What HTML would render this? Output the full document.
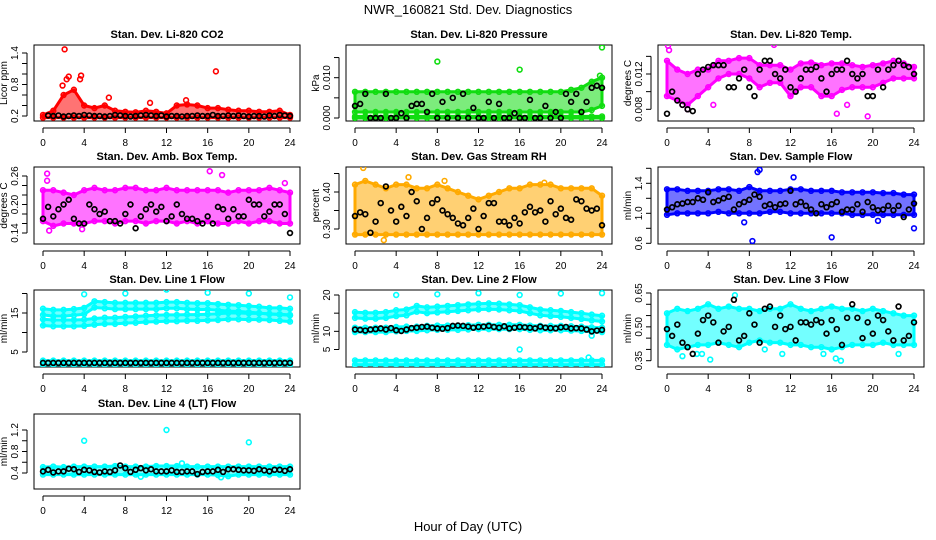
<!DOCTYPE html>
<html><head><meta charset="utf-8"><style>
html,body{margin:0;padding:0;background:#fff;}
svg{display:block;font-family:"Liberation Sans",sans-serif;}
</style></head><body>
<svg id="chart" width="936" height="540" xmlns="http://www.w3.org/2000/svg">
<text x="468" y="14" font-size="13" text-anchor="middle">NWR_160821  Std. Dev. Diagnostics</text>
<text x="468" y="531" font-size="13" text-anchor="middle">Hour of Day (UTC)</text>
</svg>
<script>
// ---- data ----
const hoursBand = [0,1,2,3,4,5,6,7,8,9,10,11,12,13,14,15,16,17,18,19,20,21,22,23,24];
const hoursBlack = [0,0.5,1,1.5,2,2.5,3,3.5,4,4.5,5,5.5,6,6.5,7,7.5,8,8.5,9,9.5,10,10.5,11,11.5,12,12.5,13,13.5,14,14.5,15,15.5,16,16.5,17,17.5,18,18.5,19,19.5,20,20.5,21,21.5,22,22.5,23,23.5,24];
const xTicks = [0,4,8,12,16,20,24];

const co2Hi = [0.22,0.3,0.6,0.7,0.4,0.35,0.4,0.3,0.28,0.27,0.3,0.28,0.25,0.4,0.42,0.4,0.35,0.35,0.32,0.3,0.3,0.28,0.28,0.3,0.22];
const co2Lo = [0.17,0.17,0.17,0.17,0.17,0.17,0.17,0.17,0.17,0.17,0.17,0.17,0.17,0.17,0.17,0.17,0.17,0.17,0.17,0.17,0.17,0.17,0.17,0.17,0.17];
const co2OutH = [2.1,1.9,2.5,3.7,3.6,2.3,6.4,16.8,10.4,13.9];
const co2OutV = [1.47,0.78,0.95,0.97,0.9,0.9,0.55,1.05,0.45,0.5];
const co2Black = [0.2,0.21,0.2,0.21,0.19,0.2,0.21,0.2,0.22,0.21,0.2,0.2,0.19,0.2,0.22,0.21,0.2,0.19,0.2,0.21,0.22,0.21,0.2,0.21,0.19,0.2,0.2,0.19,0.2,0.2,0.21,0.2,0.2,0.22,0.2,0.2,0.21,0.2,0.21,0.2,0.19,0.2,0.2,0.19,0.21,0.2,0.22,0.21,0.2];

const presHi = [0.0065,0.0065,0.0065,0.0065,0.0065,0.0065,0.0065,0.0065,0.0065,0.0065,0.0065,0.0065,0.0065,0.0065,0.0065,0.0065,0.0065,0.0065,0.0065,0.0065,0.0065,0.007,0.0075,0.009,0.01];
const presLo = [0.0015,0.0015,0.0015,0.0015,0.0015,0.0015,0.0015,0.0015,0.0015,0.0015,0.0015,0.0015,0.0015,0.0015,0.0015,0.0015,0.0015,0.0015,0.0015,0.0015,0.0015,0.0015,0.0015,0.002,0.003];
const presZeroHi = [0.0004,0.0004,0.0004,0.0004,0.0004,0.0004,0.0004,0.0004,0.0004,0.0004,0.0004,0.0004,0.0004,0.0004,0.0004,0.0004,0.0004,0.0004,0.0004,0.0004,0.0004,0.0004,0.0004,0.0004,0.0004];
const presZeroLo = [0,0,0,0,0,0,0,0,0,0,0,0,0,0,0,0,0,0,0,0,0,0,0,0,0];
const presOutH = [8,16,24,23.8];
const presOutV = [0.014,0.012,0.0175,0.0105];
const presBlack = [0.003,0.0035,0.006,0,0,0,0.006,0,0,0.0012,0,0.003,0.0035,0.0035,0.0015,0.006,0,0.004,0,0.005,0,0.006,0,0.0025,0,0,0.004,0,0.0035,0,0,0.0012,0,0,0.0045,0,0,0.003,0,0.0015,0,0.006,0.004,0.006,0.0015,0.004,0.0075,0.008,0.0075];

const tempHi = [0.0135,0.0125,0.012,0.0125,0.0125,0.0135,0.0135,0.0138,0.0138,0.013,0.013,0.013,0.0125,0.0132,0.0133,0.013,0.0132,0.0132,0.013,0.0128,0.013,0.0132,0.0135,0.0132,0.0128];
const tempLo = [0.0095,0.009,0.0085,0.0095,0.0105,0.0115,0.012,0.012,0.0115,0.0105,0.011,0.011,0.0095,0.0105,0.0105,0.0095,0.0095,0.0102,0.0105,0.0105,0.0105,0.011,0.0115,0.0115,0.0115];
const tempOutH = [0.1,0.2,1.5,2,16.5,19.5,17.5,10.4,4.5];
const tempOutV = [0.0152,0.0147,0.0085,0.008,0.0075,0.0072,0.0085,0.0153,0.0085];
const tempBlack = [0.0075,0.01,0.009,0.0085,0.008,0.0078,0.012,0.0125,0.0128,0.013,0.013,0.013,0.0105,0.0105,0.0115,0.0125,0.0105,0.0095,0.0125,0.0135,0.0135,0.012,0.0115,0.0125,0.0105,0.01,0.0115,0.0125,0.0125,0.0128,0.0115,0.01,0.012,0.0125,0.0125,0.0135,0.012,0.0115,0.012,0.0095,0.0095,0.0125,0.0105,0.0125,0.013,0.0135,0.013,0.0128,0.012];

const ambHi = [0.23,0.23,0.225,0.22,0.23,0.235,0.23,0.23,0.235,0.235,0.23,0.23,0.235,0.23,0.23,0.23,0.23,0.23,0.225,0.23,0.23,0.23,0.235,0.23,0.225];
const ambLo = [0.165,0.155,0.16,0.16,0.16,0.165,0.165,0.16,0.165,0.165,0.16,0.165,0.165,0.16,0.165,0.16,0.165,0.16,0.16,0.165,0.16,0.165,0.165,0.16,0.16];
const ambOutH = [0.4,0.4,0.6,16.2,17.4,23.5,3.8];
const ambOutV = [0.265,0.25,0.145,0.27,0.262,0.245,0.148];
const ambBlack = [0.17,0.195,0.175,0.19,0.2,0.21,0.17,0.16,0.16,0.2,0.19,0.18,0.185,0.165,0.165,0.16,0.18,0.2,0.15,0.175,0.19,0.2,0.185,0.195,0.165,0.175,0.2,0.18,0.17,0.17,0.165,0.16,0.175,0.16,0.195,0.19,0.17,0.19,0.175,0.175,0.21,0.2,0.2,0.175,0.185,0.2,0.2,0.18,0.14];

const rhHi = [0.42,0.43,0.42,0.41,0.42,0.42,0.41,0.41,0.42,0.41,0.4,0.39,0.38,0.39,0.4,0.41,0.41,0.42,0.42,0.42,0.41,0.41,0.41,0.41,0.39];
const rhLo = [0.285,0.285,0.285,0.285,0.285,0.285,0.285,0.285,0.285,0.285,0.285,0.285,0.285,0.285,0.285,0.285,0.285,0.285,0.285,0.285,0.285,0.285,0.285,0.285,0.285];
const rhOutH = [0.8,5.2,2.8,18.4,8.7];
const rhOutV = [0.465,0.44,0.27,0.425,0.43];
const rhBlack = [0.335,0.345,0.34,0.29,0.32,0.37,0.415,0.35,0.32,0.36,0.335,0.4,0.375,0.3,0.33,0.37,0.38,0.35,0.34,0.33,0.315,0.31,0.33,0.355,0.3,0.335,0.37,0.37,0.32,0.32,0.31,0.33,0.315,0.345,0.36,0.345,0.35,0.32,0.375,0.34,0.355,0.33,0.325,0.38,0.375,0.355,0.35,0.355,0.31];

const flowHi = [1.32,1.32,1.3,1.3,1.3,1.32,1.32,1.3,1.35,1.3,1.3,1.3,1.32,1.32,1.3,1.3,1.3,1.28,1.28,1.28,1.28,1.27,1.27,1.25,1.25];
const flowLo = [0.98,1.0,1.0,1.0,1.0,1.02,1.0,1.0,1.0,1.0,1.02,1.02,1.0,1.0,1.0,1.0,1.0,1.0,0.98,0.98,0.98,0.98,0.98,0.98,0.98];
const flowOutH = [8.3,8.8,9,7.5,16,12.3,20.5,24];
const flowOutV = [0.63,1.55,1.58,0.88,0.68,1.48,0.9,0.8];
const flowBlack = [1.05,1.08,1.12,1.13,1.15,1.15,1.2,1.18,1.28,1.15,1.17,1.2,1.22,1.05,1.12,1.15,1.18,1.25,1.22,1.1,1.12,1.08,1.12,1.13,1.3,1.12,1.15,1.1,1.05,1.0,1.12,1.08,1.12,1.15,1.02,1.05,1.05,1.12,1.02,1.15,1.08,1.04,1.05,1.1,1.04,1.1,0.95,1.05,1.13];

const l1UpHi = [16.1,15.8,15.8,16,16.3,18,17.8,17.6,17.6,17.6,17.6,17.6,17.8,17.8,17.6,17.5,17.5,17.3,17.1,17,16.8,16.6,16.3,16.3,16.1];
const l1UpLo = [14.5,14.2,14.2,14.4,14.7,16.4,16.2,16,16,16,16,16,16.2,16.2,16,15.9,15.9,15.7,15.5,15.4,15.2,15,14.7,14.7,14.5];
const l1LoHi = [13.4,13.2,13.2,13.2,13.3,13.6,13.8,13.8,14,14.1,14.3,14.4,14.5,14.5,14.6,14.6,14.7,14.8,15,15,14.9,14.9,14.8,14.6,14.4];
const l1LoLo = [11.8,11.6,11.6,11.6,11.7,12,12.2,12.2,12.4,12.5,12.7,12.8,12.9,12.9,13,13,13.1,13.2,13.4,13.4,13.3,13.3,13.2,13,12.8];
const l1BotHi = [2.8,2.8,2.8,2.8,2.8,2.8,2.8,2.8,2.8,2.8,2.8,2.8,2.8,2.8,2.8,2.8,2.8,2.8,2.8,2.8,2.8,2.8,2.8,2.8,2.8];
const l1BotLo = [1.7,1.7,1.7,1.7,1.7,1.7,1.7,1.7,1.7,1.7,1.7,1.7,1.7,1.7,1.7,1.7,1.7,1.7,1.7,1.7,1.7,1.7,1.7,1.7,1.7];
const l1OutH = [4,8,12,16,20,24];
const l1OutV = [19.8,20,21,20.2,20,19];
const l1Black = [2.2,2.2,2.2,2.2,2.2,2.2,2.2,2.2,2.2,2.2,2.2,2.2,2.2,2.2,2.2,2.2,2.2,2.2,2.2,2.2,2.2,2.2,2.2,2.2,2.2,2.2,2.2,2.2,2.2,2.2,2.2,2.2,2.2,2.2,2.2,2.2,2.2,2.2,2.2,2.2,2.2,2.2,2.2,2.2,2.2,2.2,2.2,2.2,2.2];

const l2UpHi = [15.3,15.1,15.1,15.3,15.8,16,17,16.6,16.8,17,17.2,17.4,17.6,17.7,17.6,17.4,17.2,16.6,16,15.8,15.6,15.3,15,14.6,14.3];
const l2UpLo = [13.7,13.5,13.5,13.7,14.2,14.4,15.4,15,15.2,15.4,15.6,15.8,16,16.1,16,15.8,15.6,15,14.4,14.2,14,13.7,13.4,13,12.7];
const l2MidHi = [11,11,11,11,11.2,11.3,11.3,11.5,11.6,11.6,11.6,11.7,11.8,11.8,11.8,11.8,11.8,11.6,11.5,11.5,11.5,11.4,11.3,11.1,11];
const l2MidLo = [9.8,9.8,9.8,9.8,10,10.1,10.1,10.3,10.4,10.4,10.4,10.5,10.6,10.6,10.6,10.6,10.6,10.4,10.3,10.3,10.3,10.2,10.1,9.9,9.8];
const l2BotHi = [2,2,2,2,2,2,2,2,2,2,2,2,2,2,2,2,2,2,2,2,2,2,2,2,2];
const l2BotLo = [0.8,0.8,0.8,0.8,0.8,0.8,0.8,0.8,0.8,0.8,0.8,0.8,0.8,0.8,0.8,0.8,0.8,0.8,0.8,0.8,0.8,0.8,0.8,0.8,0.8];
const l2OutH = [4,8,12,16,20,24,16,23,22.7];
const l2OutV = [20,20.2,20.5,20,20.4,20.5,5,8.8,2.8];
const l2Black = [10.5,10.4,10.2,10.5,10.6,10.8,10.5,10.9,10.3,10.1,10.5,10.9,11,11.2,11.3,11,10.8,10.7,10.9,11.5,11.6,11.5,11.3,11,11.2,11.3,11.5,11.2,11,11.4,10.8,11,11.2,11.1,11,10.8,11.3,11,10.9,10.8,11.1,11.2,10.8,10.9,10.8,10.5,10,10.2,10.4];

const l3Hi = [0.56,0.58,0.57,0.58,0.6,0.58,0.59,0.58,0.58,0.57,0.58,0.58,0.6,0.58,0.57,0.58,0.59,0.58,0.58,0.57,0.58,0.57,0.56,0.55,0.55];
const l3Lo = [0.42,0.4,0.41,0.42,0.42,0.43,0.42,0.41,0.43,0.44,0.43,0.43,0.42,0.42,0.41,0.41,0.4,0.41,0.42,0.42,0.42,0.43,0.42,0.42,0.42];
const l3OutH = [1.5,2.9,3.4,4.2,6.6,11.2,9.5,15.2,16.4,16.9,22.5];
const l3OutV = [0.37,0.38,0.38,0.355,0.64,0.38,0.4,0.38,0.36,0.35,0.38];
const l3Black = [0.49,0.46,0.51,0.43,0.41,0.38,0.47,0.53,0.55,0.52,0.43,0.48,0.5,0.62,0.44,0.46,0.56,0.51,0.43,0.58,0.59,0.5,0.55,0.49,0.5,0.44,0.52,0.52,0.51,0.53,0.52,0.47,0.53,0.49,0.42,0.54,0.6,0.54,0.45,0.52,0.47,0.55,0.53,0.48,0.44,0.59,0.44,0.46,0.52];

const l4Hi = [0.51,0.52,0.51,0.52,0.52,0.52,0.52,0.53,0.52,0.52,0.52,0.53,0.53,0.53,0.52,0.52,0.52,0.52,0.52,0.52,0.52,0.52,0.52,0.52,0.52];
const l4Lo = [0.37,0.37,0.37,0.37,0.37,0.37,0.37,0.37,0.37,0.37,0.37,0.37,0.37,0.37,0.37,0.37,0.37,0.36,0.34,0.37,0.37,0.37,0.37,0.37,0.37];
const l4OutH = [4,12,20,13.5,9.5,17.3];
const l4OutV = [1.0,1.2,0.97,0.58,0.33,0.32];
const l4Black = [0.43,0.46,0.41,0.43,0.43,0.48,0.47,0.42,0.46,0.45,0.42,0.41,0.43,0.42,0.45,0.54,0.49,0.42,0.46,0.49,0.45,0.47,0.43,0.43,0.43,0.45,0.42,0.42,0.43,0.43,0.38,0.42,0.43,0.43,0.46,0.42,0.47,0.47,0.46,0.45,0.45,0.44,0.47,0.45,0.43,0.46,0.46,0.44,0.47];

// ---- rendering ----
const NS = "http://www.w3.org/2000/svg";
const svg = document.getElementById('chart');
const rowTop = [45,167,290,414], rowBot = [121,244,367,489];
function mk(tag, attrs, parent){ const e=document.createElementNS(NS,tag); for(const k in attrs) e.setAttribute(k,attrs[k]); (parent||svg).appendChild(e); return e; }

function panel(cfg){
  const off = cfg.col*312, top=rowTop[cfg.row], bot=rowBot[cfg.row];
  const L=34+off, R=300+off;
  const xs = h => 43+off + h*(247/24);
  const ys = v => cfg.p1 + (v-cfg.v1)*(cfg.p2-cfg.p1)/(cfg.v2-cfg.v1);
  const g = mk('g',{});
  
  
  const cp = 'clip'+cfg.name;
  const cl = mk('clipPath',{id:cp},g); mk('rect',{x:L,y:top,width:R-L,height:bot-top},cl);
  const t = mk('text',{x:(L+R)/2,y:top-7,'font-size':11,'font-weight':'bold','text-anchor':'middle'},g);
  t.textContent = cfg.title;
  
  
  const box = mk('rect',{x:L,y:top,width:R-L,height:bot-top,fill:'none',stroke:'#000','stroke-width':1},g);
  
  
  mk('line',{x1:xs(0),x2:xs(24),y1:bot+7,y2:bot+7,stroke:'#000'},g);
  xTicks.forEach(h=>{
    mk('line',{x1:xs(h),x2:xs(h),y1:bot+7,y2:bot+12,stroke:'#000'},g);
    const tl = mk('text',{x:xs(h),y:bot+25,'font-size':10,'text-anchor':'middle'},g);
    tl.textContent = h;
    
    
  });
  const yt = cfg.ticks;
  mk('line',{x1:L-7,x2:L-7,y1:ys(yt[0]),y2:ys(yt[yt.length-1]),stroke:'#000'},g);
  yt.forEach(v=>mk('line',{x1:L-12,x2:L-7,y1:ys(v),y2:ys(v),stroke:'#000'},g));
  cfg.labels.forEach(v=>{
    const y=ys(v), x=L-16;
    const tl = mk('text',{x:x,y:y,'font-size':10,'text-anchor':'middle',transform:`rotate(-90 ${x} ${y})`},g);
    tl.textContent = cfg.fmt(v);
    
    
  });
  const ax = mk('text',{x:L-27,y:(top+bot)/2,'font-size':10,'text-anchor':'middle',transform:`rotate(-90 ${L-27} ${(top+bot)/2})`},g);
  ax.textContent = cfg.ylab;
  
  
  const pg = mk('g',{'clip-path':`url(#${cp})`},g);
  cfg.bands.forEach(b=>{
    const hi=b[0], lo=b[1];
    let d='';
    hoursBand.forEach((h,i)=>{ d+=(i?'L':'M')+xs(h).toFixed(1)+','+ys(hi[i]).toFixed(1); });
    for(let i=hoursBand.length-1;i>=0;i--) d+='L'+xs(hoursBand[i]).toFixed(1)+','+ys(lo[i]).toFixed(1);
    const p = mk('path',{d:d+'Z',fill:cfg.color,'fill-opacity':0.55,stroke:cfg.color,'stroke-width':3,'stroke-linejoin':'round'},pg);
    
    
    hoursBand.forEach((h,i)=>{
      [hi[i],lo[i]].forEach(v=>{
        const c = mk('circle',{cx:xs(h),cy:ys(v),r:2.4,fill:'none',stroke:cfg.color,'stroke-width':1.6},pg);
        
        
      });
    });
  });
  cfg.outH.forEach((h,i)=>{
    const c = mk('circle',{cx:xs(h),cy:ys(cfg.outV[i]),r:2.4,fill:'none',stroke:cfg.color,'stroke-width':1.6},pg);
    
    
  });
  hoursBlack.forEach((h,i)=>{
    if(cfg.skipFirst && i===0) return;
    const c = mk('circle',{cx:xs(h),cy:ys(cfg.black[i]),r:2.4,fill:'none',stroke:'#000','stroke-width':1.7},pg);
    
    
  });
}
const f1=v=>v.toFixed(1), f3=v=>v.toFixed(3), f2=v=>v.toFixed(2), f0=v=>String(v);
panel({name:'panel-co2',title:'Stan. Dev. Li-820 CO2',ylab:'Licor ppm',col:0,row:0,v1:0.2,p1:116,v2:1.4,p2:53,ticks:[0.2,0.4,0.6,0.8,1.0,1.2,1.4],labels:[0.2,0.8,1.4],fmt:f1,color:'#ff0000',bands:[[co2Hi,co2Lo]],outH:co2OutH,outV:co2OutV,black:co2Black,skipFirst:true});
panel({name:'panel-pressure',title:'Stan. Dev. Li-820 Pressure',ylab:'kPa',col:1,row:0,v1:0,p1:118,v2:0.01,p2:77.7,ticks:[0,0.005,0.01,0.015],labels:[0,0.01],fmt:f3,color:'#11dd11',bands:[[presHi,presLo],[presZeroHi,presZeroLo]],outH:presOutH,outV:presOutV,black:presBlack});
panel({name:'panel-temp',title:'Stan. Dev. Li-820 Temp.',ylab:'degrees C',col:2,row:0,v1:0.008,p1:109.3,v2:0.012,p2:74,ticks:[0.008,0.01,0.012,0.014],labels:[0.008,0.012],fmt:f3,color:'#ff00ff',bands:[[tempHi,tempLo]],outH:tempOutH,outV:tempOutV,black:tempBlack});
panel({name:'panel-amb-temp',title:'Stan. Dev. Amb. Box Temp.',ylab:'degrees C',col:0,row:1,v1:0.14,p1:233,v2:0.26,p2:176,ticks:[0.14,0.16,0.18,0.2,0.22,0.24,0.26],labels:[0.14,0.2,0.26],fmt:f2,color:'#ff00ff',bands:[[ambHi,ambLo]],outH:ambOutH,outV:ambOutV,black:ambBlack});
panel({name:'panel-rh',title:'Stan. Dev. Gas Stream RH',ylab:'percent',col:1,row:1,v1:0.3,p1:229,v2:0.4,p2:192,ticks:[0.3,0.35,0.4,0.45],labels:[0.3,0.4],fmt:f2,color:'#ffaa00',bands:[[rhHi,rhLo]],outH:rhOutH,outV:rhOutV,black:rhBlack});
panel({name:'panel-sample-flow',title:'Stan. Dev. Sample Flow',ylab:'ml/min',col:2,row:1,v1:1.0,p1:213.3,v2:1.4,p2:183.3,ticks:[0.6,0.8,1.0,1.2,1.4,1.6],labels:[0.6,1.0,1.4],fmt:f1,color:'#0000ff',bands:[[flowHi,flowLo]],outH:flowOutH,outV:flowOutV,black:flowBlack});
panel({name:'panel-line1',title:'Stan. Dev. Line 1 Flow',ylab:'ml/min',col:0,row:2,v1:5,p1:352,v2:15,p2:313,ticks:[5,10,15,20],labels:[5,15],fmt:f0,color:'#00ffff',bands:[[l1UpHi,l1UpLo],[l1LoHi,l1LoLo],[l1BotHi,l1BotLo]],outH:l1OutH,outV:l1OutV,black:l1Black});
panel({name:'panel-line2',title:'Stan. Dev. Line 2 Flow',ylab:'ml/min',col:1,row:2,v1:5,p1:349.5,v2:20,p2:295,ticks:[5,10,15,20],labels:[5,10,20],fmt:f0,color:'#00ffff',bands:[[l2UpHi,l2UpLo],[l2MidHi,l2MidLo],[l2BotHi,l2BotLo]],outH:l2OutH,outV:l2OutV,black:l2Black});
panel({name:'panel-line3',title:'Stan. Dev. Line 3 Flow',ylab:'ml/min',col:2,row:2,v1:0.35,p1:360.7,v2:0.65,p2:293,ticks:[0.35,0.4,0.45,0.5,0.55,0.6,0.65],labels:[0.35,0.5,0.65],fmt:f2,color:'#00ffff',bands:[[l3Hi,l3Lo]],outH:l3OutH,outV:l3OutV,black:l3Black});
panel({name:'panel-line4',title:'Stan. Dev. Line 4 (LT) Flow',ylab:'ml/min',col:0,row:3,v1:0.4,p1:473,v2:1.2,p2:430,ticks:[0.4,0.6,0.8,1.0,1.2],labels:[0.4,0.8,1.2],fmt:f1,color:'#00ffff',bands:[[l4Hi,l4Lo]],outH:l4OutH,outV:l4OutV,black:l4Black});
</script>
</body></html>
